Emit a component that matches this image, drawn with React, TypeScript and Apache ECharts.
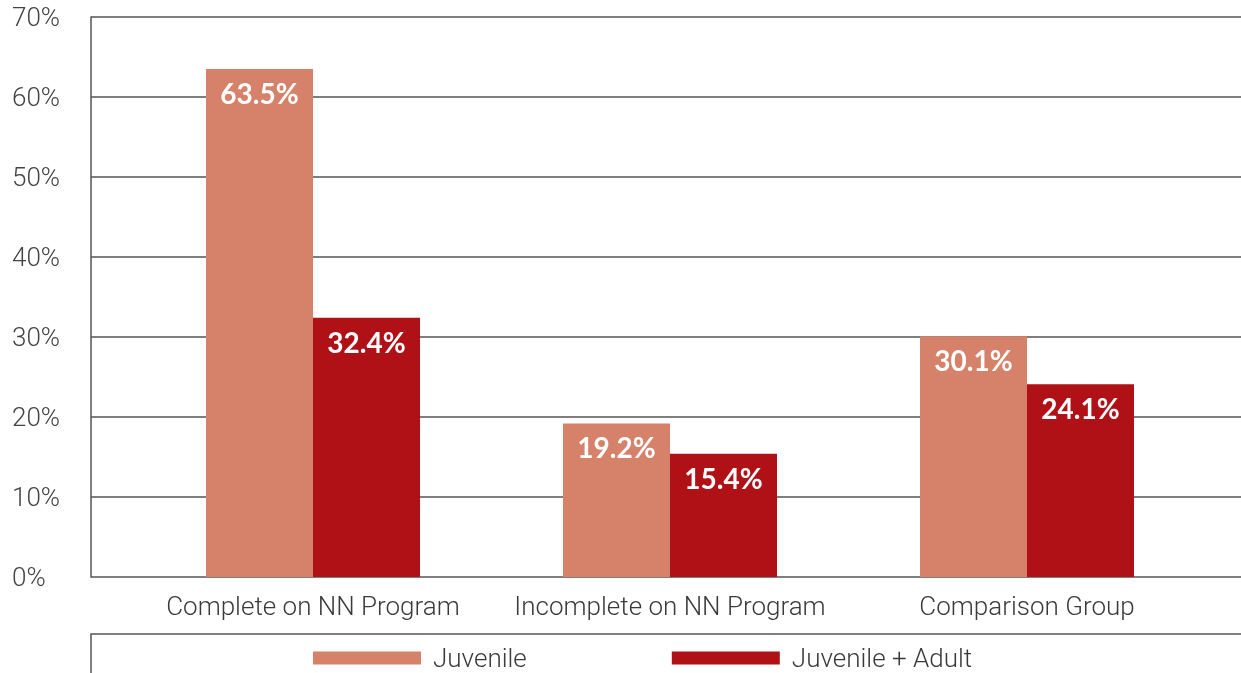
import React, { useEffect, useRef } from "react";
import * as echarts from "echarts";

const categories = ["Complete on NN Program", "Incomplete on NN Program", "Comparison Group"];
const juvenile = [63.5, 19.2, 30.1];
const juvenileAdult = [32.4, 15.4, 24.1];
const seriesNames = ["Juvenile", "Juvenile + Adult"];
const colors = ["#D6826A", "#AF1117"];

export default function App() {
  const ref = useRef<HTMLDivElement>(null);
  useEffect(() => {
    if (!ref.current) return;
    const chart = echarts.init(ref.current, undefined, { renderer: "svg" });
    const font = "Roboto";
    const lineColor = "#555555";
    const labelStyle = {
      show: true,
      position: "insideTop" as const,
      distance: 10,
      color: "#ffffff",
      fontFamily: "Lato",
      fontWeight: "bold" as const,
      fontSize: 28,
      formatter: "{c}%",
    };
    chart.setOption({
      animation: false,
      grid: [
        { left: 91, right: 0, top: 17, bottom: 96 },
        { left: 134.5, right: 35.5, top: 17, bottom: 96 },
      ],
      xAxis: [
        { gridIndex: 0, type: "value", min: 0, max: 1, show: false },
        {
          gridIndex: 1,
          type: "category",
          data: categories,
          axisLine: { show: false },
          axisTick: { show: false },
          axisLabel: { interval: 0, color: "#3a3a3a", fontFamily: font, fontWeight: 300, fontSize: 26, margin: 16 },
        },
      ],
      yAxis: [
        {
          gridIndex: 0,
          type: "value",
          min: 0,
          max: 70,
          interval: 10,
          axisLine: { show: true, lineStyle: { color: lineColor, width: 1.5 } },
          axisTick: { show: false },
          splitLine: { show: true, lineStyle: { color: lineColor, width: 1.5 } },
          axisLabel: {
            formatter: "{value}%",
            color: "#444444",
            fontFamily: font,
            fontWeight: 300,
            fontSize: 26,
            align: "left",
            margin: 79,
          },
        },
        { gridIndex: 1, type: "value", min: 0, max: 70, interval: 10, show: false },
      ],
      legend: {
        left: 313,
        top: 645,
        padding: 0,
        itemWidth: 108,
        itemHeight: 13,
        itemGap: 145,
        icon: "rect",
        textStyle: { color: "#3a3a3a", fontFamily: font, fontWeight: 300, fontSize: 26, padding: [0, 0, 0, 7] },
        data: seriesNames,
      },
      graphic: [
        {
          type: "rect",
          shape: { x: 91, y: 634, width: 1200, height: 100 },
          style: { fill: "none", stroke: lineColor, lineWidth: 1.5 },
          silent: true,
        },
      ],
      series: [
        {
          name: seriesNames[0],
          type: "bar",
          xAxisIndex: 1,
          yAxisIndex: 1,
          data: juvenile,
          barWidth: 107,
          barGap: "0%",
          itemStyle: { color: colors[0] },
          label: labelStyle,
        },
        {
          name: seriesNames[1],
          type: "bar",
          xAxisIndex: 1,
          yAxisIndex: 1,
          data: juvenileAdult,
          barWidth: 107,
          barGap: "0%",
          itemStyle: { color: colors[1] },
          label: labelStyle,
        },
      ],
    });
    return () => chart.dispose();
  }, []);
  return <div ref={ref} style={{ position: "fixed", left: 0, top: 0, width: 1241, height: 673 }} />;
}
